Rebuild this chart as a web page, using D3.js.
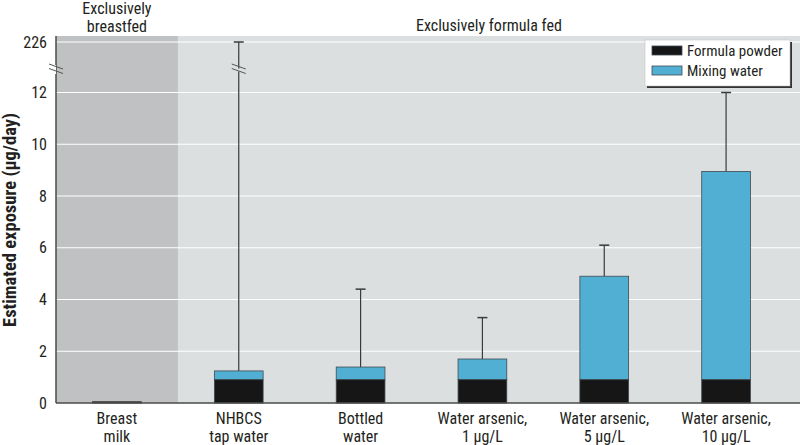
<!DOCTYPE html>
<html><head><meta charset="utf-8">
<script src="https://cdn.jsdelivr.net/npm/d3@7"></script>
<style>
body{margin:0;background:#fff;}
text{font-family:"Liberation Sans Narrow","Roboto Condensed","Arial Narrow",sans-serif;}
</style></head>
<body><svg id="c" width="800" height="445"></svg>
<script>
const categories = ["Breast\nmilk","NHBCS\ntap water","Bottled\nwater","Water arsenic,\n1 µg/L","Water arsenic,\n5 µg/L","Water arsenic,\n10 µg/L"];
const breastMilk = [0.05, null, null, null, null, null];
const formulaPowder = [null, 0.9, 0.9, 0.9, 0.9, 0.9];
const mixingWater = [null, 0.34, 0.49, 0.8, 4.0, 8.05];
const upperError = [null, 226, 4.4, 3.3, 6.1, 12.0];
const yTicks = [0,2,4,6,8,10,12,226];
const groupLabels = ["Exclusively\nbreastfed","Exclusively formula fed"];
const legendLabels = ["Formula powder","Mixing water"];

(function(){
const svg = d3.select("#c");
const pl = 56, pr = 800, pt = 36, pb = 403;
const fs = 16;
const x = d3.scaleBand().domain(categories).range([56, 787]).paddingInner(0.6).paddingOuter(0.3);
const y = d3.scaleLinear().domain([0,12,226]).range([403,92.5,42]);
const breakY = 68;

// backgrounds
svg.append("rect").attr("x",pl).attr("y",pt).attr("width",pr-pl).attr("height",pb-pt).attr("fill","#dcdfe0");
const step = x.step();
const bfRight = x(categories[0]) + x.bandwidth()/2 + step/2;
svg.append("rect").attr("x",pl).attr("y",pt).attr("width",bfRight-pl).attr("height",pb-pt).attr("fill","#bfc1c2");

// grid
svg.selectAll(".grid").data(yTicks.filter(d=>d>0)).enter().append("line")
  .attr("x1",pl).attr("x2",pr).attr("y1",d=>y(d)).attr("y2",d=>y(d))
  .attr("stroke","#fff").attr("stroke-width",1.2);

// group labels
const glx = [ (pl+bfRight)/2, (bfRight+pr)/2 ];
groupLabels.forEach((g,i)=>{
  const lines = g.split("\n");
  const t = svg.append("text").attr("x",glx[i]).attr("y", lines.length>1?14:31)
    .attr("text-anchor","middle").attr("font-size",fs).attr("fill","#231f20");
  lines.forEach((l,j)=>t.append("tspan").attr("x",glx[i]).attr("dy", j?17.5:0).text(l));
});

// bars
const cx = c => x(c) + x.bandwidth()/2;
svg.selectAll(".bm").data(categories.filter((c,i)=>breastMilk[i]!=null)).enter().append("rect")
  .attr("x",c=>x(c)).attr("width",x.bandwidth())
  .attr("y",c=>y(breastMilk[categories.indexOf(c)])).attr("height",c=>y(0)-y(breastMilk[categories.indexOf(c)]))
  .attr("fill","#333").attr("stroke","#444").attr("stroke-width",1);

const idx = categories.map((c,i)=>i).filter(i=>formulaPowder[i]!=null);
// error bars (behind bars)
idx.forEach(i=>{
  const c = categories[i];
  const tot = formulaPowder[i]+mixingWater[i];
  svg.append("line").attr("x1",cx(c)).attr("x2",cx(c)).attr("y1",y(tot)).attr("y2",y(upperError[i]))
    .attr("stroke","#3a3a3a").attr("stroke-width",1.2);
  svg.append("line").attr("x1",cx(c)-5).attr("x2",cx(c)+5).attr("y1",y(upperError[i])).attr("y2",y(upperError[i]))
    .attr("stroke","#3a3a3a").attr("stroke-width",1.5);
  if (upperError[i] > 12) {
    const bx = cx(c);
    svg.append("polygon").attr("points",`${bx-7},${breakY-2} ${bx+7},${breakY+3} ${bx+7},${breakY+6} ${bx-7},${breakY+1}`)
      .attr("fill","#dcdfe0");
    [ -1.5, 3 ].forEach(o=>svg.append("line").attr("x1",bx-7).attr("x2",bx+7).attr("y1",breakY+o-2.5).attr("y2",breakY+o+2.5)
      .attr("stroke","#555").attr("stroke-width",1));
  }
});
idx.forEach(i=>{
  const c = categories[i];
  svg.append("rect").attr("x",x(c)).attr("width",x.bandwidth())
    .attr("y",y(formulaPowder[i]+mixingWater[i])).attr("height",y(formulaPowder[i])-y(formulaPowder[i]+mixingWater[i]))
    .attr("fill","#52afd4").attr("stroke","#3f4a50").attr("stroke-width",0.8);
  svg.append("rect").attr("x",x(c)).attr("width",x.bandwidth())
    .attr("y",y(formulaPowder[i])).attr("height",y(0)-y(formulaPowder[i]))
    .attr("fill","#161616").attr("stroke","#3f4a50").attr("stroke-width",0.8);
});

// axes
const yAxis = svg.append("g").attr("transform",`translate(${pl},0)`)
  .call(d3.axisLeft(y).tickValues(yTicks).tickSize(0).tickPadding(9).tickFormat(d3.format("d")));
yAxis.select(".domain").remove();
yAxis.selectAll("text").attr("font-size",fs).attr("fill","#231f20");
svg.append("line").attr("x1",pl).attr("x2",pl).attr("y1",pt).attr("y2",pb).attr("stroke","#4a4a4a").attr("stroke-width",1.5);
// axis break
svg.append("rect").attr("x",pl-7).attr("y",breakY-3).attr("width",7).attr("height",9).attr("fill","#fff");
svg.append("rect").attr("x",pl+1).attr("y",breakY-3).attr("width",6).attr("height",9).attr("fill","#bfc1c2");
[ -1.5, 3 ].forEach(o=>svg.append("line").attr("x1",pl-7).attr("x2",pl+7).attr("y1",breakY+o-2.5).attr("y2",breakY+o+2.5)
  .attr("stroke","#555").attr("stroke-width",1));

const xAxis = svg.append("g").attr("transform",`translate(0,${pb})`)
  .call(d3.axisBottom(x).tickSize(0).tickPadding(8).tickFormat(""));
xAxis.select(".domain").remove();
svg.append("line").attr("x1",pl).attr("x2",pr).attr("y1",pb).attr("y2",pb).attr("stroke","#4a4a4a").attr("stroke-width",1.5);
categories.forEach(c=>{
  const t = svg.append("text").attr("x",cx(c)).attr("y",424).attr("text-anchor","middle").attr("font-size",fs).attr("fill","#231f20");
  c.split("\n").forEach((l,j)=>t.append("tspan").attr("x",cx(c)).attr("dy", j?18:0).text(l));
});

// y label
svg.append("text").attr("transform","translate(16,220) rotate(-90)").attr("text-anchor","middle")
  .attr("font-size",18.5).attr("font-weight","bold").attr("fill","#231f20").text("Estimated exposure (µg/day)");

// legend
const lg = svg.append("g");
lg.append("rect").attr("x",647).attr("y",42).attr("width",145).attr("height",46).attr("fill","#333");
lg.append("rect").attr("x",645).attr("y",40).attr("width",145).attr("height",46).attr("fill","#fff").attr("stroke","#bbb").attr("stroke-width",0.5);
const lcol = ["#161616","#52afd4"];
legendLabels.forEach((l,i)=>{
  lg.append("rect").attr("x",652).attr("y",46+i*20).attr("width",30).attr("height",9).attr("fill",lcol[i]).attr("stroke","#3f4a50").attr("stroke-width",0.8);
  lg.append("text").attr("x",687).attr("y",56+i*20).attr("font-size",15).attr("fill","#231f20").text(l);
});
})();
</script></body></html>
